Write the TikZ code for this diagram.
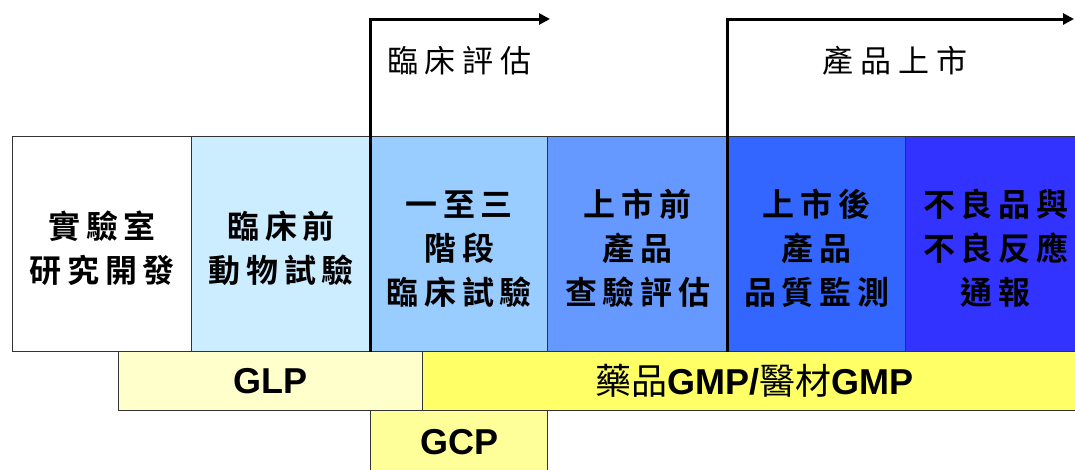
\documentclass[tikz,border=0pt]{standalone}
\usepackage{fontspec}
\setmainfont{Liberation Sans}
\newfontfamily\cjk[LetterSpace=18,BoldFont={* Bold}]{Noto Sans CJK TC}
\newfontfamily\cjkt[LetterSpace=22]{Noto Sans CJK TC}
\newfontfamily\cjkn{Noto Sans CJK TC}
\usetikzlibrary{arrows.meta}
\definecolor{c1}{HTML}{FFFFFF}
\definecolor{c2}{HTML}{CCECFF}
\definecolor{c3}{HTML}{99CCFF}
\definecolor{c4}{HTML}{6699FF}
\definecolor{c5}{HTML}{3366FF}
\definecolor{c6}{HTML}{3333FF}
\definecolor{glp}{HTML}{FFFFCC}
\definecolor{gmp}{HTML}{FFFF66}
\definecolor{gcp}{HTML}{FFFF99}
\definecolor{edge}{HTML}{333333}
\tikzset{
  stagebox/.style={draw=edge, line width=1.3pt, anchor=north west, minimum height=215pt,
    inner sep=0pt, align=center, font=\cjk\bfseries\fontsize{32}{44}\selectfont},
  gbox/.style={draw=edge, line width=1.3pt, anchor=north west, minimum height=59pt,
    inner sep=0pt, font=\bfseries\fontsize{36}{40}\selectfont},
  flow/.style={line width=3pt, -{Triangle[length=11pt,width=11pt]}},
  heading/.style={inner sep=0pt, font=\cjkt\fontsize{31}{36}\selectfont}
}
\newcommand{\stagetext}[1]{\raisebox{-8pt}[\height][\depth]{\begin{tabular}{@{}c@{}}#1\end{tabular}}}
\begin{document}
\begin{tikzpicture}[x=1pt,y=-1pt]
\useasboundingbox (0,0) rectangle (1075,469);
\clip (0,0) rectangle (1075,469);
% stages
\node[stagebox, fill=c1, minimum width=179pt] (b1) at (12,136) {\stagetext{實驗室\\研究開發}};
\node[stagebox, fill=c2, minimum width=179pt] (b2) at (191,136) {\stagetext{臨床前\\動物試驗}};
\node[stagebox, fill=c3, minimum width=177pt] (b3) at (370,136) {\stagetext{一至三\\階段\\臨床試驗}};
\node[stagebox, fill=c4, minimum width=180pt] (b4) at (547,136) {\stagetext{上市前\\產品\\查驗評估}};
\node[stagebox, fill=c5, minimum width=178pt] (b5) at (727,136) {\stagetext{上市後\\產品\\品質監測}};
\node[stagebox, fill=c6, minimum width=180pt] (b6) at (905,136) {\stagetext{不良品與\\不良反應\\通報}};
% GxP bars
\node[gbox, fill=glp, minimum width=304pt] (glp) at (118,351) {GLP};
\node[gbox, fill=gmp, minimum width=663pt] (gmp) at (422,351) {{\cjkn\mdseries 藥品}GMP/{\cjkn\mdseries 醫材}GMP};
\node[gbox, fill=gcp, minimum width=177pt, minimum height=62pt] (gcp) at (370,410) {GCP};
% milestone arrows
\coordinate (m1) at (370,352);
\coordinate (m1e) at (550,19);
\coordinate (m2) at (727,352);
\coordinate (m2e) at (1074,19);
\draw[flow] (m1) |- (m1e);
\draw[flow] (m2) |- (m2e);
\node[heading, anchor=west] (h1) at (387,61) {臨床評估};
\node[heading] (h2) at (895,61) {產品上市};
\end{tikzpicture}
\end{document}
